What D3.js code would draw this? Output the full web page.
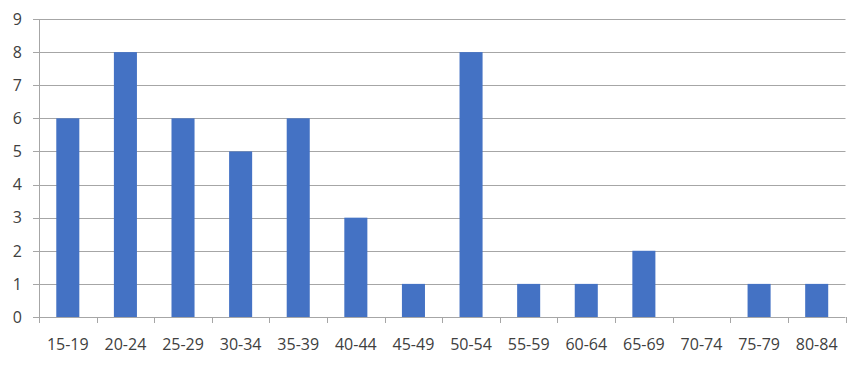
<!DOCTYPE html>
<html>
<head>
<meta charset="utf-8">
<script src="https://cdn.jsdelivr.net/npm/d3@7"></script>
<style>
  body { margin: 0; background: #fff; }
  svg text { font-family: "Open Sans", "Liberation Sans", sans-serif; fill: #404040; }
</style>
</head>
<body>
<script>
// age groups and counts
var categories = ["15-19", "20-24", "25-29", "30-34", "35-39", "40-44", "45-49",
                  "50-54", "55-59", "60-64", "65-69", "70-74", "75-79", "80-84"];
var counts = [6, 8, 6, 5, 6, 3, 1, 8, 1, 1, 2, 0, 1, 1];
var yTicks = [0, 1, 2, 3, 4, 5, 6, 7, 8, 9];

var w = 868;
var h = 365;
// note: "top" is a reserved window property, so use plot* names
var plotLeft = 39, plotRight = 845.5, plotTop = 19, plotBottom = 317;

var svg = d3.select("body")
            .append("svg")
            .attr("width", w)
            .attr("height", h);

var x = d3.scaleBand()
          .domain(categories)
          .range([plotLeft, plotRight])
          .paddingInner(0.6)
          .paddingOuter(0.3);

var y = d3.scaleLinear()
          .domain([0, 9])
          .range([plotBottom, plotTop]);

// gridlines
svg.selectAll("line.grid")
   .data(yTicks)
   .enter()
   .append("line")
   .attr("class", "grid")
   .attr("x1", plotLeft - 6)
   .attr("x2", plotRight)
   .attr("y1", function(d) { return Math.round(y(d)) + 0.5; })
   .attr("y2", function(d) { return Math.round(y(d)) + 0.5; })
   .attr("stroke", "#a6a6a6")
   .attr("stroke-width", 1);

// y axis line
svg.append("line")
   .attr("x1", plotLeft + 0.5)
   .attr("x2", plotLeft + 0.5)
   .attr("y1", plotTop)
   .attr("y2", plotBottom)
   .attr("stroke", "#a6a6a6");

svg.selectAll("text.ylab")
   .data(yTicks)
   .enter()
   .append("text")
   .attr("class", "ylab")
   .attr("x", 22)
   .attr("y", function(d) { return y(d); })
   .attr("dy", "0.36em")
   .attr("text-anchor", "end")
   .attr("font-size", "16px")
   .text(function(d) { return d; });

// bars
svg.selectAll("rect")
   .data(counts)
   .enter()
   .append("rect")
   .attr("x", function(d, i) { return x(categories[i]); })
   .attr("y", function(d) { return y(d); })
   .attr("width", x.bandwidth())
   .attr("height", function(d) { return plotBottom - y(d); })
   .attr("fill", "#4472c4");

// x axis ticks (category boundaries)
var step = (plotRight - plotLeft) / categories.length;
var bounds = d3.range(categories.length + 1).map(function(i) { return plotLeft + i * step; });
svg.selectAll("line.xtick")
   .data(bounds)
   .enter()
   .append("line")
   .attr("class", "xtick")
   .attr("x1", function(d) { return Math.round(d) + 0.5; })
   .attr("x2", function(d) { return Math.round(d) + 0.5; })
   .attr("y1", plotBottom)
   .attr("y2", plotBottom + 6)
   .attr("stroke", "#a6a6a6");

svg.selectAll("text.xlab")
   .data(categories)
   .enter()
   .append("text")
   .attr("class", "xlab")
   .attr("x", function(d) { return x(d) + x.bandwidth() / 2; })
   .attr("y", 350)
   .attr("text-anchor", "middle")
   .attr("font-size", "16px")
   .text(function(d) { return d; });
</script>
</body>
</html>
